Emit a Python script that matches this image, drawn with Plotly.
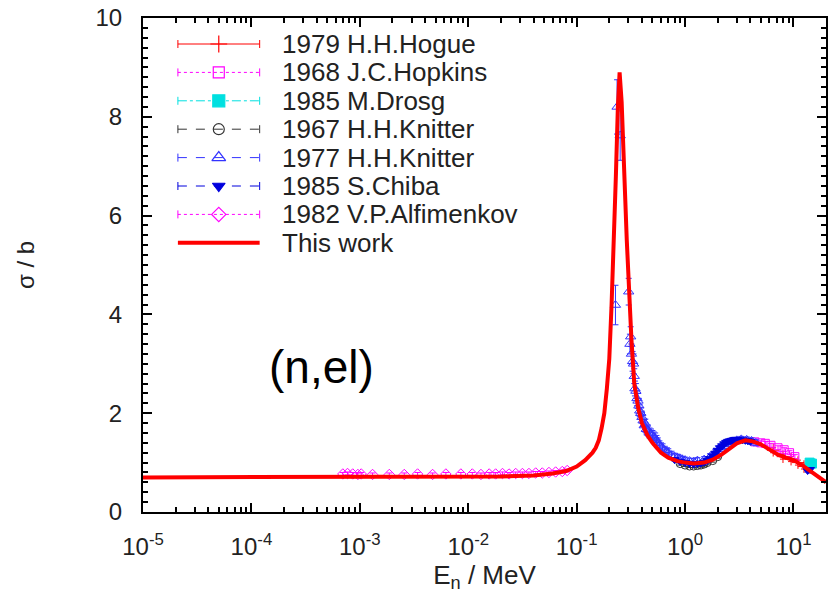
import plotly.graph_objects as go

# ---- data ----
work_x = [1e-5, 1e-4, 1e-3, 1e-2, 0.02, 0.04, 0.06, 0.08, 0.10, 0.12, 0.14, 0.15, 0.16, 0.17, 0.18,
          0.19, 0.20, 0.21, 0.22, 0.23, 0.24, 0.249, 0.26, 0.27, 0.28, 0.29, 0.30, 0.32, 0.34, 0.37,
          0.40, 0.45, 0.5, 0.6, 0.7, 0.85, 1.0, 1.2, 1.5, 1.8, 2.2, 2.6, 3.0, 3.6, 4.2, 5.0, 6.0,
          7.2, 8.5, 10.0, 12.0, 14.0, 17.0, 20.0]
work_y = [0.70, 0.70, 0.70, 0.71, 0.72, 0.74, 0.78, 0.83, 0.92, 1.05, 1.20, 1.30, 1.45, 1.70, 2.00,
          2.50, 3.10, 4.20, 5.40, 6.80, 8.20, 8.90, 8.30, 7.50, 6.40, 5.50, 4.70, 3.50, 2.60, 2.10,
          1.80, 1.55, 1.40, 1.20, 1.10, 1.03, 1.00, 0.98, 1.00, 1.06, 1.17, 1.30, 1.39, 1.45, 1.43,
          1.37, 1.27, 1.16, 1.10, 1.05, 0.95, 0.85, 0.72, 0.60]

hogue_x = [6.5, 8.0, 9.5, 11.0, 12.5]
hogue_y = [1.25, 1.12, 1.07, 1.00, 0.92]
hogue_e = [0.05, 0.05, 0.05, 0.05, 0.05]

hopkins_x = [4.4, 5.0, 5.5, 6.2, 7.2, 8.2, 9.2, 10.3]
hopkins_y = [1.42, 1.40, 1.39, 1.35, 1.30, 1.26, 1.20, 1.12]
hopkins_e = [0.04, 0.04, 0.04, 0.04, 0.04, 0.04, 0.04, 0.04]

drosg_x = [14.1, 14.8]
drosg_y = [1.00, 0.98]
drosg_e = [0.03, 0.03]

knitter67_x = [0.9, 1.0, 1.1, 1.2, 1.3, 1.4, 1.5, 1.6, 1.8, 2.0]
knitter67_y = [0.98, 0.95, 0.93, 0.93, 0.94, 0.95, 0.97, 1.00, 1.04, 1.12]
knitter67_e = [0.03] * 10

knitter77_x = [0.228, 0.236, 0.252, 0.302, 0.31, 0.315, 0.32, 0.328, 0.335, 0.34, 0.345, 0.352,
               0.36, 0.368, 0.375, 0.382, 0.39, 0.40, 0.41, 0.42, 0.43, 0.44, 0.455, 0.47, 0.485,
               0.50, 0.515, 0.53, 0.545, 0.56, 0.58, 0.60, 0.62, 0.65, 0.68, 0.70, 0.75, 0.80,
               0.85, 0.90, 0.95, 1.0, 1.1, 1.2, 1.3, 1.5, 1.7, 1.9, 2.1, 2.3, 2.5, 2.7, 3.0, 3.3,
               3.7, 4.1, 4.5]
knitter77_y = [4.19, 8.20, 7.62, 4.46, 3.40, 3.55, 3.20, 3.05, 3.00, 2.75, 2.50, 2.45,
               2.30, 2.25, 2.15, 2.05, 2.00, 1.92, 1.85, 1.75, 1.78, 1.68, 1.66, 1.60, 1.58,
               1.55, 1.52, 1.50, 1.45, 1.40, 1.36, 1.32, 1.30, 1.25, 1.22, 1.20, 1.15, 1.12,
               1.10, 1.08, 1.06, 1.05, 1.03, 1.02, 1.04, 1.06, 1.12, 1.20, 1.28, 1.33, 1.38, 1.42, 1.45, 1.47,
               1.46, 1.44, 1.40]
knitter77_e = [0.40, 0.55, 0.50, 0.27, 0.20, 0.20, 0.20, 0.20, 0.20, 0.15, 0.15, 0.15,
               0.15, 0.15, 0.15, 0.12, 0.12, 0.12, 0.12, 0.12, 0.10, 0.10, 0.10, 0.10, 0.10,
               0.10, 0.10, 0.10, 0.10, 0.10, 0.08, 0.08, 0.08, 0.08, 0.08, 0.08, 0.08, 0.07,
               0.07, 0.07, 0.06, 0.06, 0.06, 0.06, 0.06, 0.06, 0.06, 0.06, 0.06, 0.06, 0.06, 0.06, 0.06, 0.06,
               0.06, 0.06, 0.06]

chiba_x = [0.8, 0.9, 1.0, 1.1, 1.2, 1.3, 1.4, 1.5, 1.6, 1.7, 1.8, 1.9, 2.0, 2.1, 2.2, 2.3, 2.4, 2.5,
           2.6, 2.7, 2.8, 2.9, 3.0, 3.2, 3.4, 3.6, 3.8, 4.0, 13.5, 14.2]
chiba_y = [1.06, 1.02, 1.00, 0.98, 0.97, 0.98, 0.99, 1.01, 1.04, 1.08, 1.13, 1.19, 1.25, 1.30, 1.34,
           1.38, 1.41, 1.43, 1.44, 1.45, 1.46, 1.47, 1.47, 1.46, 1.46, 1.45, 1.44, 1.43, 0.84, 0.86]
chiba_e = [0.03] * 30

alfim_x = [6.97e-4, 7.7e-4, 8.6e-4, 9.6e-4, 1.03e-3, 1.31e-3, 1.87e-3, 2.57e-3, 3.41e-3, 4.69e-3,
           6.22e-3, 8.55e-3, 0.0109, 0.0131, 0.0156, 0.0179, 0.0207, 0.0238, 0.0274, 0.0316,
           0.0363, 0.0419, 0.0482, 0.0555, 0.064, 0.0737, 0.0818]
alfim_y = [0.77, 0.78, 0.77, 0.76, 0.77, 0.76, 0.76, 0.76, 0.77, 0.76, 0.77, 0.77, 0.77, 0.76,
           0.77, 0.77, 0.78, 0.77, 0.78, 0.78, 0.78, 0.79, 0.79, 0.80, 0.81, 0.82, 0.84]
alfim_e = [0.03] * 27

x_tickvals = [1e-5, 1e-4, 1e-3, 1e-2, 1e-1, 1, 10]
x_ticktext = ["10<sup>-5</sup>", "10<sup>-4</sup>", "10<sup>-3</sup>", "10<sup>-2</sup>",
              "10<sup>-1</sup>", "10<sup>0</sup>", "10<sup>1</sup>"]

series = [
    # name, x, y, err, color, symbol, dash, marker size
    ("1979 H.H.Hogue", hogue_x, hogue_y, hogue_e, "#ff0000", "cross-thin-open", "solid", 9),
    ("1968 J.C.Hopkins", hopkins_x, hopkins_y, hopkins_e, "#ff00ff", "square-open", "dot", 8),
    ("1985 M.Drosg", drosg_x, drosg_y, drosg_e, "#00e0e0", "square", "dashdot", 9),
    ("1967 H.H.Knitter", knitter67_x, knitter67_y, knitter67_e, "#333333", "circle-open", "dash", 8),
    ("1977 H.H.Knitter", knitter77_x, knitter77_y, knitter77_e, "#3333ff", "triangle-up-open", "dash", 9),
    ("1985 S.Chiba", chiba_x, chiba_y, chiba_e, "#0000dd", "triangle-down", "dash", 8),
    ("1982 V.P.Alfimenkov", alfim_x, alfim_y, alfim_e, "#ff00ff", "diamond-open", "dot", 8),
]
work_name = "This work"

FONT = "Liberation Sans, Arial, Helvetica, sans-serif"
TXT = "#222222"

fig = go.Figure()

# data traces
for name, xs, ys, es, col, sym, dash, ms in series:
    fig.add_trace(go.Scatter(
        x=xs, y=ys, mode="markers", showlegend=False, name=name,
        marker=dict(symbol=sym, size=ms, color=col, line=dict(color=col, width=1)),
        error_y=dict(type="data", array=es, color=col, thickness=1, width=3),
    ))

fig.add_trace(go.Scatter(x=work_x, y=work_y, mode="lines", showlegend=False, name=work_name,
                         line=dict(color="#ff0000", width=4)))

# ---- key (gnuplot style) drawn on an overlay pixel-space axis ----
KEY_X0, KEY_X1, KEY_TXT = 35, 117, 137   # pixels from plot-area left
KEY_Y0, KEY_DY = 26, 28.4                # pixels from plot-area top
for i, (name, xs, ys, es, col, sym, dash, ms) in enumerate(series):
    yy = KEY_Y0 + i * KEY_DY
    fig.add_trace(go.Scatter(
        x=[KEY_X0, KEY_X1], y=[yy, yy], xaxis="x2", yaxis="y2", mode="lines",
        line=dict(color=col, width=1, dash=dash), showlegend=False, hoverinfo="skip",
        error_y=dict(type="constant", value=4, color=col, thickness=1, width=0),
    ))
    fig.add_trace(go.Scatter(
        x=[(KEY_X0 + KEY_X1) / 2], y=[yy], xaxis="x2", yaxis="y2", mode="markers",
        marker=dict(symbol=sym, size=ms + 3, color=col, line=dict(color=col, width=1.2)),
        showlegend=False, hoverinfo="skip",
    ))
    fig.add_annotation(x=KEY_TXT, y=yy, xref="x2", yref="y2", text=name, showarrow=False,
                       xanchor="left", yanchor="middle",
                       font=dict(family=FONT, size=26, color=TXT))
yy = KEY_Y0 + len(series) * KEY_DY
fig.add_trace(go.Scatter(x=[KEY_X0, KEY_X1], y=[yy, yy], xaxis="x2", yaxis="y2", mode="lines",
                         line=dict(color="#ff0000", width=4), showlegend=False, hoverinfo="skip"))
fig.add_annotation(x=KEY_TXT, y=yy, xref="x2", yref="y2", text=work_name, showarrow=False,
                   xanchor="left", yanchor="middle", font=dict(family=FONT, size=26, color=TXT))

fig.add_annotation(x=-3.353, y=2.93, xref="x", yref="y", text="(n,el)", showarrow=False,
                   font=dict(family=FONT, size=46, color="#000"))

axis_common = dict(
    showline=True, linecolor="#000", linewidth=2, mirror="allticks",
    ticks="inside", ticklen=9, tickwidth=1.5, tickcolor="#000",
    showgrid=False, zeroline=False,
    tickfont=dict(family=FONT, size=24, color=TXT),
)

minor_x = [m * 10.0 ** e for e in range(-5, 2) for m in range(2, 10)]

fig.update_layout(
    xaxis=dict(
        type="log", range=[-5, 1.3], tickvals=x_tickvals, ticktext=x_ticktext,
        minor=dict(ticks="inside", ticklen=5, tickcolor="#000", tickvals=minor_x, showgrid=False),
        title=dict(text="E<sub>n</sub> / MeV", font=dict(family=FONT, size=26, color=TXT), standoff=2),
        ticklabelstandoff=12,
        **axis_common,
    ),
    yaxis=dict(
        range=[0, 10], dtick=2,
        minor=dict(ticks="inside", ticklen=5, tickcolor="#000", dtick=0.2, showgrid=False),
        title=dict(text="σ / b", font=dict(family=FONT, size=24, color=TXT), standoff=54),
        ticklabelstandoff=14,
        **axis_common,
    ),
    xaxis2=dict(overlaying="x", range=[0, 685], visible=False, fixedrange=True),
    yaxis2=dict(overlaying="y", range=[494, 0], visible=False, fixedrange=True),
    width=830, height=600,
    margin=dict(l=143, r=2, t=18, b=88),
    paper_bgcolor="white", plot_bgcolor="white",
    showlegend=False,
)

fig.write_html("out.html")
